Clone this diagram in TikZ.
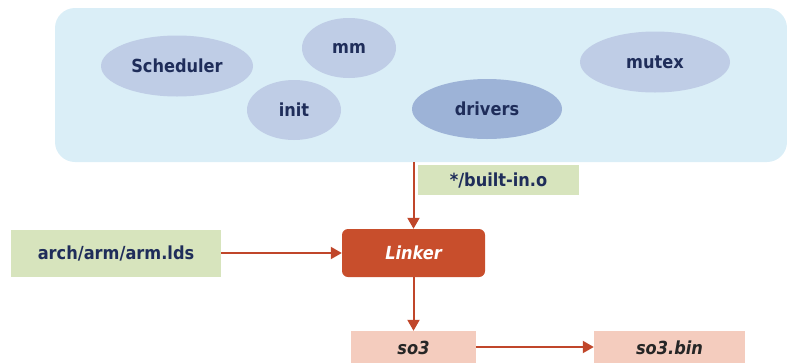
\documentclass[tikz,border=0pt]{standalone}
\usepackage{fontspec}
\setmainfont{DejaVu Sans Condensed}
\usetikzlibrary{shapes.geometric,arrows.meta}
\definecolor{panelbg}{HTML}{DAEEF7}
\definecolor{blobfill}{HTML}{BFCDE6}
\definecolor{blobdark}{HTML}{9DB3D7}
\definecolor{navytext}{HTML}{1F2D5A}
\definecolor{greenbox}{HTML}{D7E4BD}
\definecolor{linkerfill}{HTML}{C84E2C}
\definecolor{salmonbox}{HTML}{F4CCBE}
\definecolor{arrowred}{HTML}{C0462A}
\tikzset{
  labelfont/.style={font=\bfseries\fontsize{18}{20}\selectfont},
  blob/.style={ellipse, fill=blobfill, draw=none, inner sep=0pt,
    labelfont, text=navytext},
  filebox/.style={rectangle, fill=greenbox, draw=none, inner sep=0pt,
    labelfont, text=navytext},
  outbox/.style={rectangle, fill=salmonbox, draw=none, inner sep=0pt,
    font=\bfseries\itshape\fontsize{18}{20}\selectfont, text=black!85},
  linkbox/.style={rectangle, rounded corners=6pt, fill=linkerfill, draw=none,
    inner sep=0pt, font=\bfseries\itshape\fontsize{18}{20}\selectfont, text=white},
  flow/.style={draw=arrowred, line width=2pt,
    -{Triangle[width=12pt,length=11pt]}}
}
\begin{document}
\begin{tikzpicture}[x=1pt,y=-1pt]
\useasboundingbox (0,0) rectangle (787,362);
% kernel source panel
\node[fill=panelbg, rounded corners=20pt, inner sep=0pt,
  minimum width=732pt, minimum height=154pt] (panel) at (421,85) {};
% subsystems
\node[blob, minimum width=152pt, minimum height=61pt] (sched) at (177,66) {Scheduler};
\node[blob, minimum width=94pt, minimum height=60pt] (mm) at (349,48) {mm};
\node[blob, minimum width=94pt, minimum height=60pt] (init) at (294,110) {init};
\node[blob, fill=blobdark, minimum width=150pt, minimum height=60pt] (drivers) at (487,109) {drivers};
\node[blob, minimum width=150pt, minimum height=61pt] (mutex) at (655,62) {mutex};
% inputs and outputs
\node[filebox, minimum width=161pt, minimum height=30pt] (builtin) at (498.5,180) {*/built-in.o};
\node[filebox, minimum width=210pt, minimum height=47pt] (lds) at (116,253) {arch/arm/arm.lds};
\node[linkbox, minimum width=143pt, minimum height=48pt] (linker) at (413.5,253) {Linker};
\node[outbox, minimum width=125pt, minimum height=34pt] (so3) at (413.5,348) {so3};
\node[outbox, minimum width=151pt, minimum height=34pt] (so3bin) at (669.5,348) {so3.bin};
% connectors
\draw[flow] (panel.south -| linker.north) -- (linker.north);
\draw[flow] (lds.east) -- (linker.west);
\draw[flow] (linker.south) -- (so3.north);
\draw[flow] (so3.east |- 0,347) -- (so3bin.west |- 0,347);
\end{tikzpicture}
\end{document}
